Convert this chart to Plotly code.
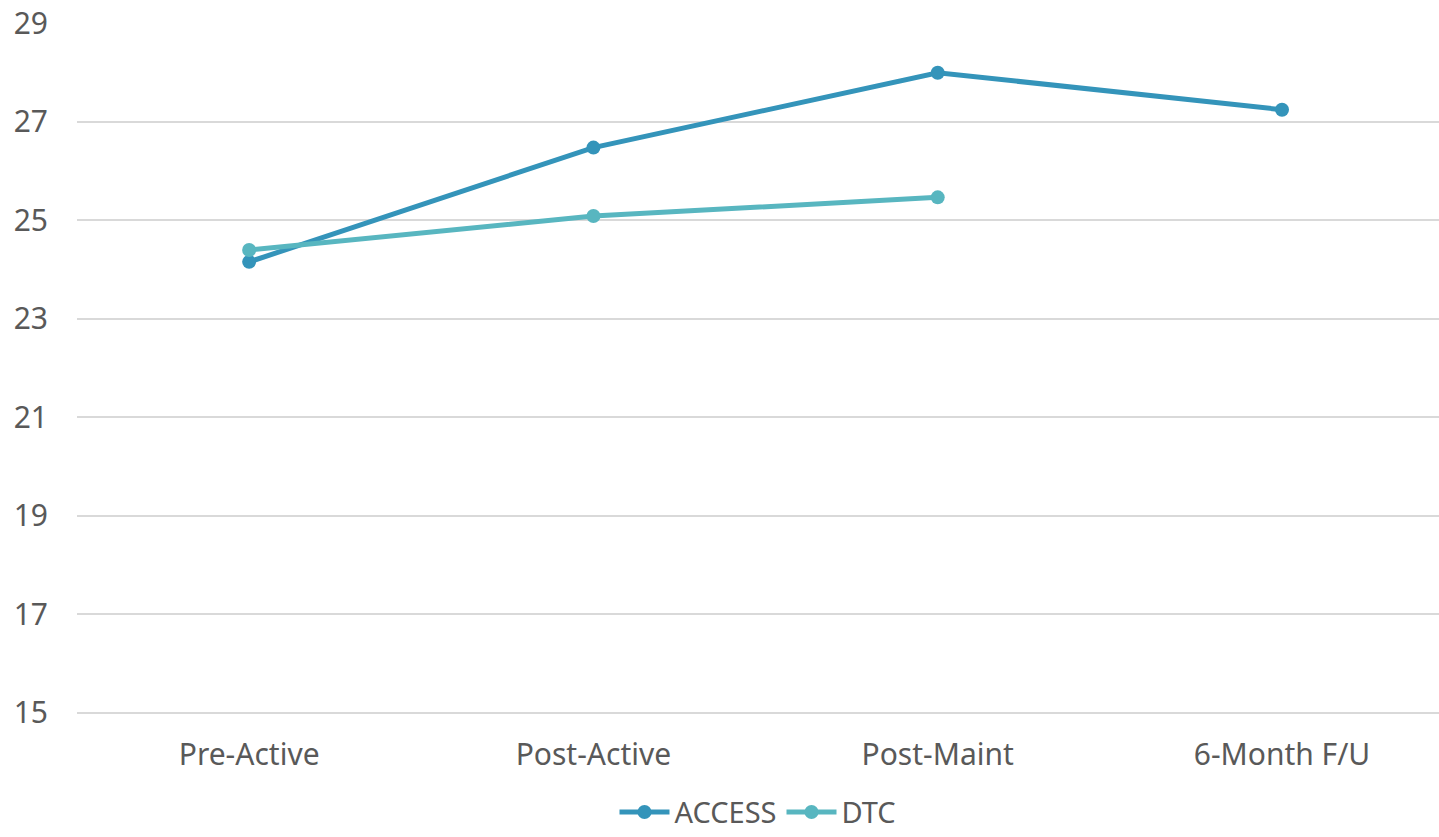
import plotly.graph_objects as go

categories = ["Pre-Active", "Post-Active", "Post-Maint", "6-Month F/U"]
access_values = [24.15, 26.47, 27.99, 27.24]
dtc_values = [24.39, 25.08, 25.46]
y_ticks = [15, 17, 19, 21, 23, 25, 27, 29]

FONT = "Noto Sans"
GREY = "#595959"

fig = go.Figure()
fig.add_trace(go.Scatter(
    x=categories, y=access_values, name="ACCESS", mode="lines+markers",
    line=dict(color="#3494BA", width=5), marker=dict(size=14, color="#3494BA"),
    cliponaxis=False,
))
fig.add_trace(go.Scatter(
    x=categories[:len(dtc_values)], y=dtc_values, name="DTC", mode="lines+markers",
    line=dict(color="#58B6C0", width=5), marker=dict(size=14, color="#58B6C0"),
    cliponaxis=False,
))

fig.update_layout(
    width=1439, height=837,
    margin=dict(l=77, r=0, t=23, b=123, autoexpand=False),
    paper_bgcolor="white", plot_bgcolor="white",
    font=dict(family=FONT, size=30, color=GREY),
    showlegend=True,
    legend=dict(orientation="h", x=0.5, xanchor="center", xref="paper",
                y=-0.142, yanchor="middle", font=dict(size=29, color=GREY),
                itemwidth=50, traceorder="normal"),
)
fig.update_xaxes(
    type="category", categoryorder="array", categoryarray=categories,
    range=[-0.5, 3.456], showgrid=False, zeroline=False, showline=False,
    ticks="", ticklabelstandoff=20, automargin=False,
)
fig.update_yaxes(
    range=[14.97, 29], tickvals=y_ticks, showgrid=True, gridcolor="#D9D9D9",
    gridwidth=2, zeroline=False, showline=False, ticks="", ticklabelstandoff=28,
    automargin=False,
)

fig.write_html("out.html")
